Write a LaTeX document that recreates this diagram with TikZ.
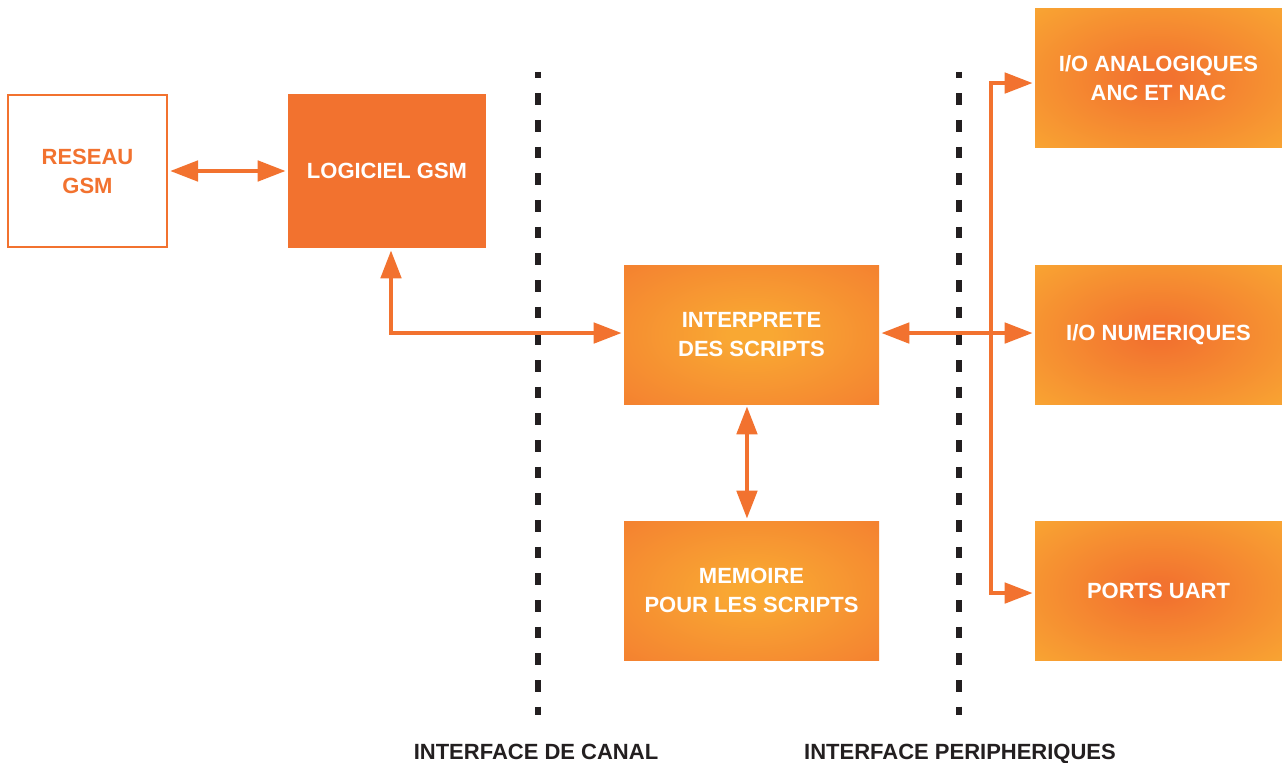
\documentclass[tikz,border=0pt]{standalone}
\usepackage{fontspec}
\setmainfont{Liberation Sans}
\usetikzlibrary{arrows.meta}
\definecolor{org}{HTML}{F2722F}
\definecolor{yel}{HTML}{F9A833}
\definecolor{yelb}{HTML}{FBB034}
\definecolor{dark}{HTML}{231F20}
\pgfdeclareradialshading{warmshade}{\pgfpoint{0bp}{0bp}}{color(0bp)=(yel); color(4bp)=(yel); color(48bp)=(org); color(50bp)=(org)}
\pgfdeclareradialshading{hotshade}{\pgfpoint{0bp}{0bp}}{color(0bp)=(org); color(3bp)=(org); color(38bp)=(yel); color(50bp)=(yelb)}
\begin{document}
\begin{tikzpicture}[x=0.75pt,y=-0.75pt,
  lbl/.style={font=\bfseries\fontsize{16.5}{21.75}\selectfont, align=center, inner sep=0pt},
  outlinebox/.style={lbl, rectangle, draw=org, line width=1.5pt, text=org, fill=white},
  solidbox/.style={lbl, rectangle, fill=org, text=white},
  warmbox/.style={lbl, rectangle, text=white, shading=warmshade},
  hotbox/.style={lbl, rectangle, text=white, shading=hotshade},
  conn/.style={draw=org, line width=3.5pt, line join=miter, {Triangle[length=21pt,width=15pt]}-{Triangle[length=21pt,width=15pt]}},
  sepline/.style={draw=dark, line width=4.2pt, dash pattern=on 8.75pt off 11.25pt, dash phase=4pt},
  caption/.style={font=\bfseries\fontsize{16.5}{20}\selectfont, text=dark, inner sep=0pt, anchor=base}
]
\fill[white] (0,0) rectangle (1282,763);
\useasboundingbox (0,0) rectangle (1282,763);

% boxes
\node[outlinebox, minimum width=119.25pt, minimum height=114pt] (reseau) at (87.5,171) {RESEAU\\GSM};
\node[solidbox, minimum width=148.5pt, minimum height=115.5pt] (logiciel) at (387,171) {LOGICIEL GSM};
\node[warmbox, minimum width=191.25pt, minimum height=104.25pt] (interp) at (751.5,334.5) {INTERPRETE\\DES SCRIPTS};
\node[warmbox, minimum width=191.25pt, minimum height=104.25pt] (memoire) at (751.5,590.5) {MEMOIRE\\POUR LES SCRIPTS};
\node[hotbox, minimum width=185.25pt, minimum height=104.25pt] (ana) at (1158.5,78.5) {I/O ANALOGIQUES\\ANC ET NAC};
\node[hotbox, minimum width=185.25pt, minimum height=104.25pt] (num) at (1158.5,334.5) {I/O NUMERIQUES};
\node[hotbox, minimum width=185.25pt, minimum height=104.25pt] (uart) at (1158.5,590.5) {PORTS UART};

% separators
\coordinate (s1top) at (538,72);
\coordinate (s1bot) at (538,715);
\coordinate (s2top) at (959,72);
\coordinate (s2bot) at (959,715);
\draw[sepline] (s1top) -- (s1bot);
\draw[sepline] (s2top) -- (s2bot);

% connectors
\draw[conn, shorten <=1.5pt, shorten >=1.5pt] (reseau.east) -- (logiciel.west);
\draw[conn, shorten <=1.5pt, shorten >=1.5pt] ([xshift=3pt]logiciel.south) |- ([yshift=1.1pt]interp.west);
\draw[conn, shorten <=1.5pt, shorten >=1.5pt] ([yshift=1.1pt]interp.east) -- ([yshift=1.1pt]num.west);
\draw[conn, shorten <=1.5pt, shorten >=1.5pt] ([xshift=-3.4pt]interp.south) -- ([xshift=-3.4pt]memoire.north);
\coordinate (bus) at (991,333);
\draw[conn, shorten <=1.5pt, shorten >=1.5pt] ([yshift=-3.4pt]ana.west) -| (bus) |- ([yshift=-1.9pt]uart.west);

% captions
\node[caption] (cap1) at (536,759) {INTERFACE DE CANAL};
\node[caption] (cap2) at (960,759) {INTERFACE PERIPHERIQUES};
\end{tikzpicture}
\end{document}
